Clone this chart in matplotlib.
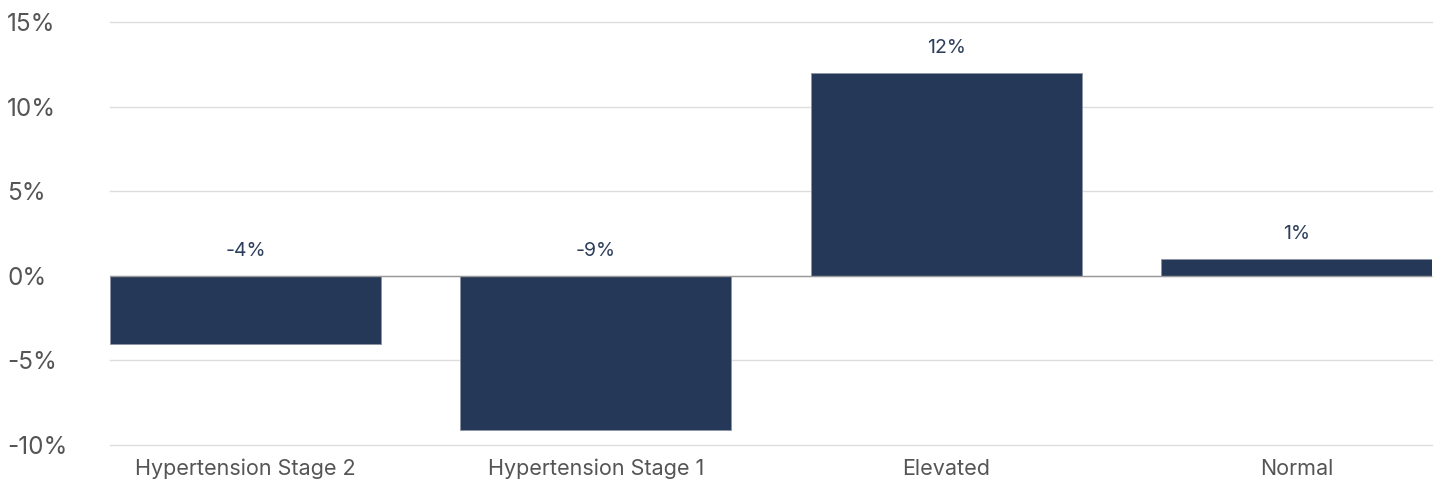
import numpy as np
import matplotlib.pyplot as plt
from matplotlib.ticker import FuncFormatter

# Chart values (percent change by blood pressure category)
categories = ["Hypertension Stage 2", "Hypertension Stage 1", "Elevated", "Normal"]
values = [-4.05, -9.1, 12.0, 1.0]
value_labels = ["-4%", "-9%", "12%", "1%"]
y_ticks = [-10, -5, 0, 5, 10, 15]

plt.rcParams['font.family'] = ['Inter', 'DejaVu Sans']

bar_color = "#253858"
bar_width = 0.774

fig = plt.figure(figsize=(14.4, 4.83), dpi=100)
ax = fig.add_axes([0.0764, 0.0787, 0.9180, 0.8751])

x = np.arange(len(categories))
ax.bar(x, values, width=bar_width, color=bar_color, edgecolor="#8a94a6",
       linewidth=0.6, zorder=3)

# zero line and grid
ax.axhline(0, color="#9a9a9a", linewidth=1.0, zorder=4)
ax.set_yticks(y_ticks)
ax.yaxis.grid(True, color="#dddddd", linewidth=1.0, zorder=0)
for gl in ax.get_ygridlines():
    gl.set_clip_on(False)
ax.set_ylim(-10, 15)
ax.set_xlim(-bar_width / 2, len(categories) - 1 + bar_width / 2)

# value labels above bar (or above zero line for negative bars)
for xi, v, lab in zip(x, values, value_labels):
    base = max(v, 0)
    ax.annotate(lab, (xi, base), xytext=(0, 18), textcoords="offset points",
                ha="center", va="center", fontsize=14, color="#2e3f5c")

ax.yaxis.set_major_formatter(FuncFormatter(lambda v, p: f"{v:.0f}%"))
ax.set_xticks(x)
ax.set_xticklabels(categories, fontsize=15.5, color="#555555")
ax.tick_params(axis="x", length=0, pad=10)
ax.tick_params(axis="y", length=0, pad=74, labelsize=17.5, labelcolor="#555555")
for lbl in ax.get_yticklabels():
    lbl.set_horizontalalignment("left")

for s in ax.spines.values():
    s.set_visible(False)

fig.savefig("out.png", dpi=100)
